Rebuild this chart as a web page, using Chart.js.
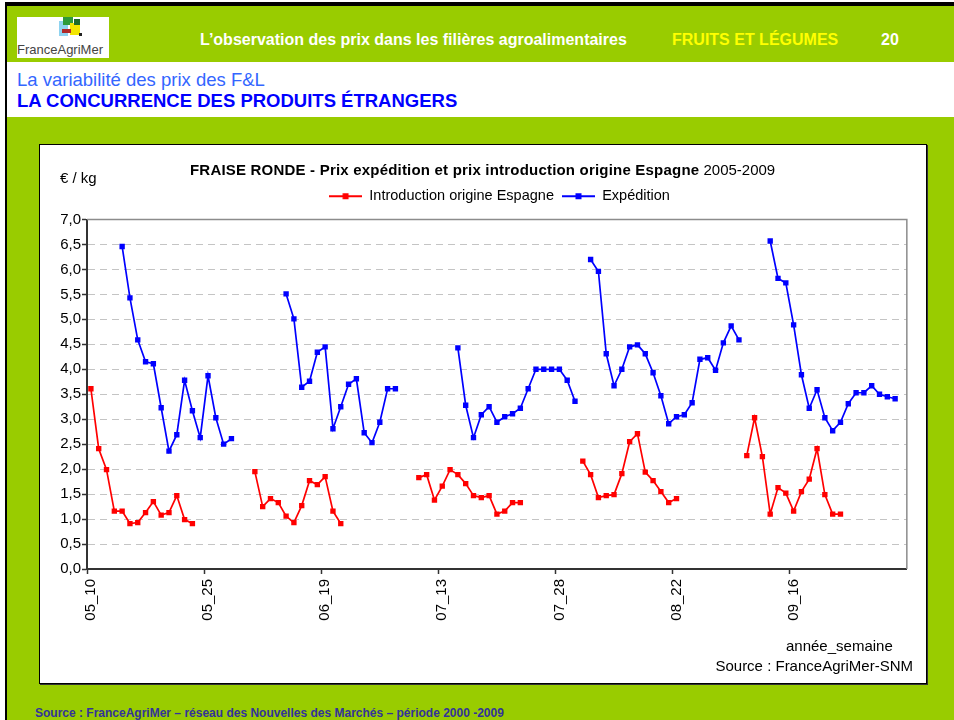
<!DOCTYPE html>
<html lang="fr">
<head>
<meta charset="UTF-8">
<title>Fraise ronde - prix expédition et introduction Espagne</title>
<script src="https://cdn.jsdelivr.net/npm/chart.js"></script>
<style>
  html, body { margin: 0; padding: 0; }
  body { width: 954px; height: 720px; position: relative; overflow: hidden; background: #fff;
         font-family: "Liberation Sans", Arial, sans-serif; }
  .abs { position: absolute; white-space: nowrap; }
  .frame { position: absolute; left: 5px; top: 2px; right: 0; bottom: 0; background: #99cc00;
           border-left: 2px solid #000; border-top: 4px solid #000; }
  .band { position: absolute; left: 7px; right: 0; top: 62px; height: 55px; background: #fff; }
  .logo { position: absolute; left: 17px; top: 17px; width: 92px; height: 41px; background: #fff; }
  .logo div { position: absolute; }
  .logo .txt { left: 0; top: 25px; font-size: 13px; color: #444; line-height: 15px; }
  .head { top: 31px; font-size: 16px; font-weight: bold; line-height: 18px; color: #fff; }
  .sub1 { left: 17px; top: 70px; font-size: 18.5px; line-height: 20px; color: #3366ff; }
  .sub2 { left: 17px; top: 91px; font-size: 18.5px; line-height: 20px; font-weight: bold; color: #0000ff; }
  .box { position: absolute; left: 39px; top: 144px; width: 886px; height: 538px; background: #fff;
         border: 1px solid #000; box-shadow: 1px 1px 0 #333; }
  .box canvas { position: absolute; left: 0; top: 0; }
  .box .abs { font-size: 15px; line-height: 18px; color: #000; }
  .foot { left: 35px; top: 706px; font-size: 12px; line-height: 14px; font-weight: bold; color: #333399; }
</style>
</head>
<body>
<div class="frame"></div>
<div class="band"></div>
<div class="logo">
  <div style="left:42px;top:4px;width:9px;height:15px;background:#8fd3f0"></div>
  <div style="left:46px;top:0;width:10px;height:8px;background:#2e9a3a"></div>
  <div style="left:53px;top:6px;width:10px;height:12px;background:#f2e600"></div>
  <div style="left:45px;top:12px;width:9px;height:4px;background:#b02a2a"></div>
  <div style="left:57px;top:2px;width:6px;height:6px;background:#1d6b2a"></div>
  <div style="left:62px;top:16px;width:3px;height:3px;background:#222"></div>
  <div class="txt">FranceAgriMer</div>
</div>
<div class="abs head" style="left:200px">L’observation des prix dans les filières agroalimentaires</div>
<div class="abs head" style="left:672px;color:#ffff00">FRUITS ET LÉGUMES</div>
<div class="abs head" style="left:881px">20</div>
<div class="abs sub1">La variabilité des prix des F&amp;L</div>
<div class="abs sub2">LA CONCURRENCE DES PRODUITS ÉTRANGERS</div>

<div class="box">
  <canvas id="chart" width="886" height="538"></canvas>
  <div class="abs" style="left:20px;top:24px">€ / kg</div>
  <div class="abs" style="left:150px;top:16px"><b style="letter-spacing:0.2px">FRAISE RONDE - Prix expédition et prix introduction origine Espagne</b> 2005-2009</div>
  <div class="abs" style="left:746px;top:492px">année_semaine</div>
  <div class="abs" style="right:13px;top:512px">Source : FranceAgriMer-SNM</div>
</div>

<div class="abs foot">Source : FranceAgriMer – réseau des Nouvelles des Marchés – période 2000 -2009</div>

<script>
const years = ['05', '06', '07', '08', '09'];
const weeks = ['10', '11', '12', '13', '14', '15', '16', '17', '18', '19', '20',
               '21', '22', '23', '24', '25', '26', '27', '28', '29', '30'];
const categories = years.flatMap(y => weeks.map(w => y + '_' + w));

// Introduction origine Espagne, weeks 10..30 of each year
const introEspagne05 = [3.61, 2.41, 1.99, 1.16, 1.16, 0.91, 0.93, 1.13, 1.35, 1.08, 1.13, 1.47, 0.99, 0.91, null, null, null, null, null, null, null];
const introEspagne06 = [1.95, 1.25, 1.41, 1.33, 1.06, 0.93, 1.27, 1.77, 1.69, 1.85, 1.16, 0.91, null, null, null, null, null, null, null, null, null];
const introEspagne07 = [1.83, 1.89, 1.38, 1.66, 1.99, 1.89, 1.71, 1.47, 1.43, 1.47, 1.10, 1.16, 1.33, 1.33, null, null, null, null, null, null, null];
const introEspagne08 = [2.16, 1.89, 1.43, 1.47, 1.49, 1.91, 2.55, 2.71, 1.94, 1.77, 1.55, 1.33, 1.41, null, null, null, null, null, null, null, null];
const introEspagne09 = [2.27, 3.03, 2.25, 1.10, 1.63, 1.52, 1.16, 1.55, 1.80, 2.41, 1.49, 1.10, 1.10, null, null, null, null, null, null, null, null];

// Expédition
const expedition05 = [null, null, null, null, 6.46, 5.43, 4.59, 4.15, 4.11, 3.23, 2.36, 2.69, 3.78, 3.17, 2.63, 3.87, 3.03, 2.50, 2.61, null, null];
const expedition06 = [null, null, null, null, 5.51, 5.01, 3.64, 3.76, 4.34, 4.45, 2.81, 3.25, 3.70, 3.81, 2.73, 2.53, 2.94, 3.61, 3.61, null, null];
const expedition07 = [null, null, null, null, null, 4.43, 3.28, 2.63, 3.09, 3.25, 2.94, 3.05, 3.11, 3.22, 3.61, 4.00, 4.00, 4.00, 4.00, 3.78, 3.36];
const expedition08 = [null, 6.20, 5.96, 4.31, 3.67, 4.00, 4.45, 4.49, 4.31, 3.93, 3.47, 2.91, 3.05, 3.09, 3.33, 4.20, 4.23, 3.98, 4.53, 4.87, 4.59];
const expedition09 = [null, null, null, 6.57, 5.82, 5.73, 4.89, 3.89, 3.22, 3.59, 3.03, 2.77, 2.94, 3.31, 3.53, 3.53, 3.67, 3.50, 3.45, 3.41, null];

const introEspagne = [].concat(introEspagne05, introEspagne06, introEspagne07, introEspagne08, introEspagne09);
const expedition = [].concat(expedition05, expedition06, expedition07, expedition08, expedition09);

const FONT = '"Liberation Sans", Arial, sans-serif';

// legend icon: line with a square marker, like the spreadsheet legend
function legendIcon(color) {
    const c = document.createElement('canvas');
    c.width = 33;
    c.height = 8;
    const g = c.getContext('2d');
    g.strokeStyle = color;
    g.lineWidth = 2;
    g.beginPath();
    g.moveTo(0, 4);
    g.lineTo(33, 4);
    g.stroke();
    g.fillStyle = color;
    g.fillRect(13.5, 1, 6, 6);
    return c;
}

// legend: a bit more room below it, centred over the plot area;
// grey frame on top and right of the plot area
const plotFrame = {
    id: 'plotFrame',
    afterInit(chart) {
        const lg = chart.legend;
        const fit = lg.fit;
        lg.fit = function () {
            fit.call(this);
            this.height += 6;
        };
    },
    afterLayout(chart) {
        chart.legend.left += 23;
        chart.legend.right += 23;
    },
    beforeDatasetsDraw(chart) {
        const {ctx, chartArea: a} = chart;
        ctx.save();
        ctx.strokeStyle = '#8c8c8c';
        ctx.lineWidth = 1.5;
        ctx.beginPath();
        ctx.moveTo(a.left, a.top);
        ctx.lineTo(a.right, a.top);
        ctx.lineTo(a.right, a.bottom);
        ctx.stroke();
        ctx.restore();
    }
};

new Chart(document.getElementById('chart'), {
    type: 'line',
    data: {
        labels: categories,
        datasets: [
            {
                label: 'Introduction origine Espagne',
                data: introEspagne,
                borderColor: '#ff0000',
                backgroundColor: '#ff0000',
                borderWidth: 1.7,
                pointStyle: 'rect',
                pointRadius: 3.8,
                pointBorderWidth: 0,
                spanGaps: false,
                tension: 0
            },
            {
                label: 'Expédition',
                data: expedition,
                borderColor: '#0000ff',
                backgroundColor: '#0000ff',
                borderWidth: 1.7,
                pointStyle: 'rect',
                pointRadius: 3.8,
                pointBorderWidth: 0,
                spanGaps: false,
                tension: 0
            }
        ]
    },
    options: {
        responsive: false,
        animation: false,
        layout: {
            padding: {left: 0, right: 13, top: 36, bottom: 0}
        },
        plugins: {
            title: {display: false},
            tooltip: {enabled: false},
            legend: {
                position: 'top',
                labels: {
                    usePointStyle: true,
                    pointStyleWidth: 33,
                    padding: 8,
                    color: '#000',
                    font: {family: FONT, size: 14.5},
                    generateLabels: chart => chart.data.datasets.map((ds, i) => ({
                        text: ds.label,
                        datasetIndex: i,
                        pointStyle: legendIcon(ds.borderColor),
                        fillStyle: ds.borderColor,
                        strokeStyle: ds.borderColor,
                        lineWidth: 0,
                        hidden: false,
                        fontColor: '#000'
                    }))
                }
            }
        },
        scales: {
            x: {
                offset: true,
                afterFit: scale => { scale.height = 114; },
                grid: {
                    offset: true,
                    drawOnChartArea: false,
                    drawTicks: true,
                    tickLength: 5,
                    tickWidth: 1.5,
                    tickColor: ctx => (ctx.index % 15 === 0 ? '#333' : 'rgba(0,0,0,0)')
                },
                border: {color: '#333', width: 2},
                ticks: {
                    autoSkip: false,
                    minRotation: 90,
                    maxRotation: 90,
                    padding: 5,
                    color: '#000',
                    font: {family: FONT, size: 15},
                    callback: (v, i) => (i % 15 === 0 ? categories[i] : '')
                }
            },
            y: {
                min: 0,
                max: 7,
                afterFit: scale => { scale.width = 47; },
                grid: {
                    color: '#c4c4c4',
                    lineWidth: 1,
                    tickLength: 5,
                    tickColor: '#333',
                    tickWidth: 1.5
                },
                border: {color: '#333', width: 2, dash: [7, 5]},
                ticks: {
                    stepSize: 0.5,
                    padding: 1,
                    color: '#000',
                    font: {family: FONT, size: 15},
                    callback: v => v.toFixed(1).replace('.', ',')
                }
            }
        }
    },
    plugins: [plotFrame]
});
</script>
</body>
</html>
